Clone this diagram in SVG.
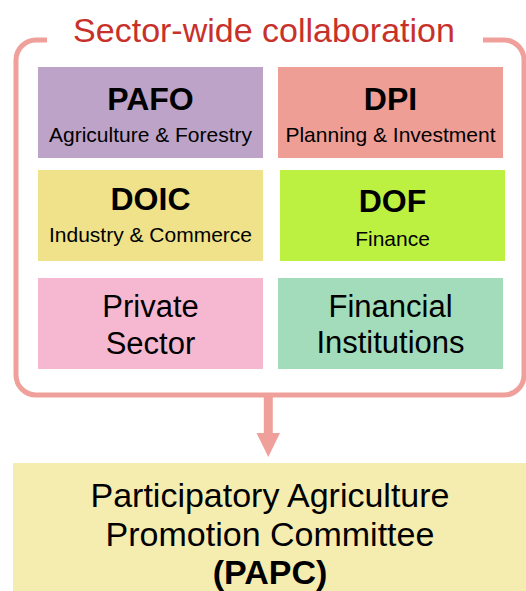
<svg xmlns="http://www.w3.org/2000/svg" width="526" height="591" viewBox="0 0 526 591">
<style>
text{font-family:"Liberation Sans",Arial,sans-serif;fill:#000;text-anchor:middle}
.b{font-weight:bold;font-size:32px}
.s{font-size:21px}
.m{font-size:31px}
.l{font-size:34px}
.frame{fill:none;stroke:#f0a09a;stroke-width:5}
</style>
<rect width="526" height="591" fill="#fff"/>
<g id="frame">
<path class="frame" d="M47,40 H36 A20,20 0 0 0 16,60 V375 A20,20 0 0 0 36,395 H504 A20,20 0 0 0 524,375 V60 A20,20 0 0 0 504,40 H483"/>
<text x="264" y="42" style="font-size:34px;fill:#c8312a">Sector-wide collaboration</text>
</g>
<g id="pafo">
<rect x="38" y="67" width="225" height="91" fill="#bca3c7"/>
<text class="b" x="150.5" y="110">PAFO</text>
<text class="s" x="150.5" y="142">Agriculture &amp; Forestry</text>
</g>
<g id="dpi">
<rect x="278" y="67" width="225" height="91" fill="#ee9e95"/>
<text class="b" x="390.5" y="110">DPI</text>
<text class="s" x="390.5" y="142">Planning &amp; Investment</text>
</g>
<g id="doic">
<rect x="38" y="170" width="225" height="91" fill="#efe28a"/>
<text class="b" x="150.5" y="210">DOIC</text>
<text class="s" x="150.5" y="242">Industry &amp; Commerce</text>
</g>
<g id="dof">
<rect x="280" y="170" width="225" height="91" fill="#bdf141"/>
<text class="b" x="392.5" y="212">DOF</text>
<text class="s" x="392.5" y="246">Finance</text>
</g>
<g id="private">
<rect x="38" y="278" width="225" height="91" fill="#f5b8d0"/>
<text class="m" x="150.5" y="317">Private</text>
<text class="m" x="150.5" y="354">Sector</text>
</g>
<g id="financial">
<rect x="278" y="278" width="225" height="91" fill="#a3dcbb"/>
<text class="m" x="390.5" y="317">Financial</text>
<text class="m" x="390.5" y="353">Institutions</text>
</g>
<g id="papc">
<rect x="13" y="463" width="520" height="140" fill="#f5ecb0"/>
<text class="l" x="270" y="507">Participatory Agriculture</text>
<text class="l" x="270" y="546">Promotion Committee</text>
<text class="l" x="270" y="584" style="font-weight:bold">(PAPC)</text>
</g>
<g id="connectors">
<line x1="268.3" y1="397" x2="268.3" y2="435" stroke="#f0a09a" stroke-width="9"/>
<polygon points="256.5,433 280,433 268.3,457" fill="#f0a09a"/>
</g>
</svg>
